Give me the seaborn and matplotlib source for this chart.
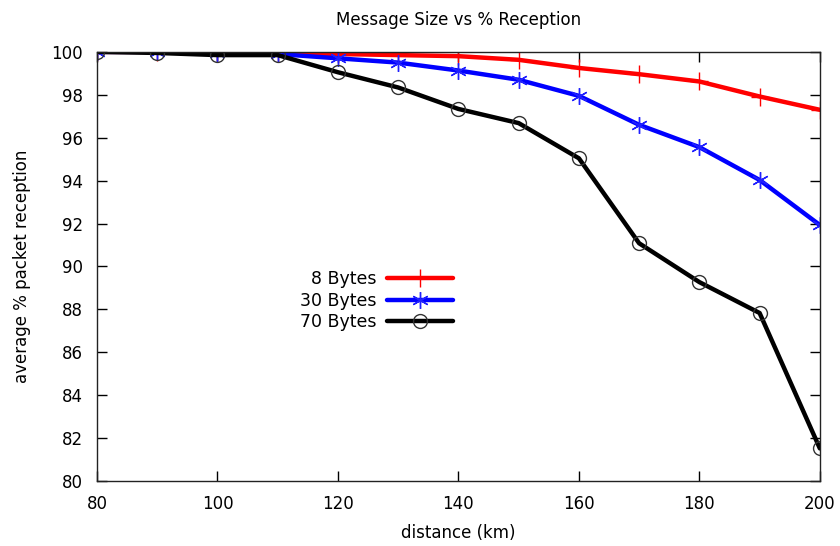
import matplotlib
matplotlib.use("Agg")
import matplotlib.pyplot as plt
import seaborn as sns
import numpy as np

distance = [80, 90, 100, 110, 120, 130, 140, 150, 160, 170, 180, 190, 200]
bytes8 = [100, 100, 100, 99.95, 99.9, 99.85, 99.8, 99.63, 99.25, 98.96, 98.62, 97.92, 97.3]
bytes30 = [100, 100, 99.95, 99.9, 99.7, 99.5, 99.13, 98.7, 97.95, 96.6, 95.56, 94.03, 91.93]
bytes70 = [100, 99.95, 99.85, 99.85, 99.05, 98.34, 97.34, 96.68, 95.04, 91.08, 89.27, 87.83, 81.52]
labels = ["8 Bytes", "30 Bytes", "70 Bytes"]

sns.set_style("ticks")
plt.rcParams['font.family'] = ['DejaVu Sans']
plt.rcParams['text.color'] = 'black'
plt.rcParams['axes.labelcolor'] = 'black'
plt.rcParams['xtick.color'] = 'black'
plt.rcParams['ytick.color'] = 'black'

fig = plt.figure(figsize=(8.4, 5.46), dpi=100)
ax = fig.add_axes([0.1155, 0.119, 0.8605, 0.786])

sns.lineplot(x=distance, y=bytes8, ax=ax, color="#ff0000", lw=3.2, marker="+",
             markersize=13, markeredgewidth=1.0, markeredgecolor="#ff0000", label=labels[0])
sns.lineplot(x=distance, y=bytes30, ax=ax, color="#0000ff", lw=3.2, marker=(6, 2, 0),
             markersize=12, markeredgewidth=1.0, markeredgecolor="#2020ff", label=labels[1])
sns.lineplot(x=distance, y=bytes70, ax=ax, color="#000000", lw=3.2, marker="o",
             markersize=10, markerfacecolor="none", markeredgewidth=1.0,
             markeredgecolor="#333333", label=labels[2])

ax.set_xlim(80, 200)
ax.set_ylim(80, 100)
ax.set_xticks(np.arange(80, 201, 20))
ax.set_yticks(np.arange(80, 101, 2))
ax.tick_params(axis="both", direction="in", top=True, right=True, length=7, width=1, labelsize=12)
ax.tick_params(axis="x", pad=10)
ax.tick_params(axis="y", pad=10)
for s in ax.spines.values():
    s.set_linewidth(1.0)
    s.set_color("#222222")

ax.set_title("Message Size vs % Reception", fontsize=12, pad=19)
ax.set_xlabel("distance (km)", fontsize=12, labelpad=8)
ax.set_ylabel("average % packet reception", fontsize=12, labelpad=15)

leg = ax.legend(loc="center", bbox_to_anchor=(0.387, 0.42), frameon=False,
                markerfirst=False, fontsize=12.5, handlelength=3.8, labelspacing=0.2,
                handletextpad=0.6)
for t in leg.get_texts():
    t.set_ha("right")
leg._legend_box.align = "right"

fig.savefig("out.png", dpi=100, facecolor="white")
